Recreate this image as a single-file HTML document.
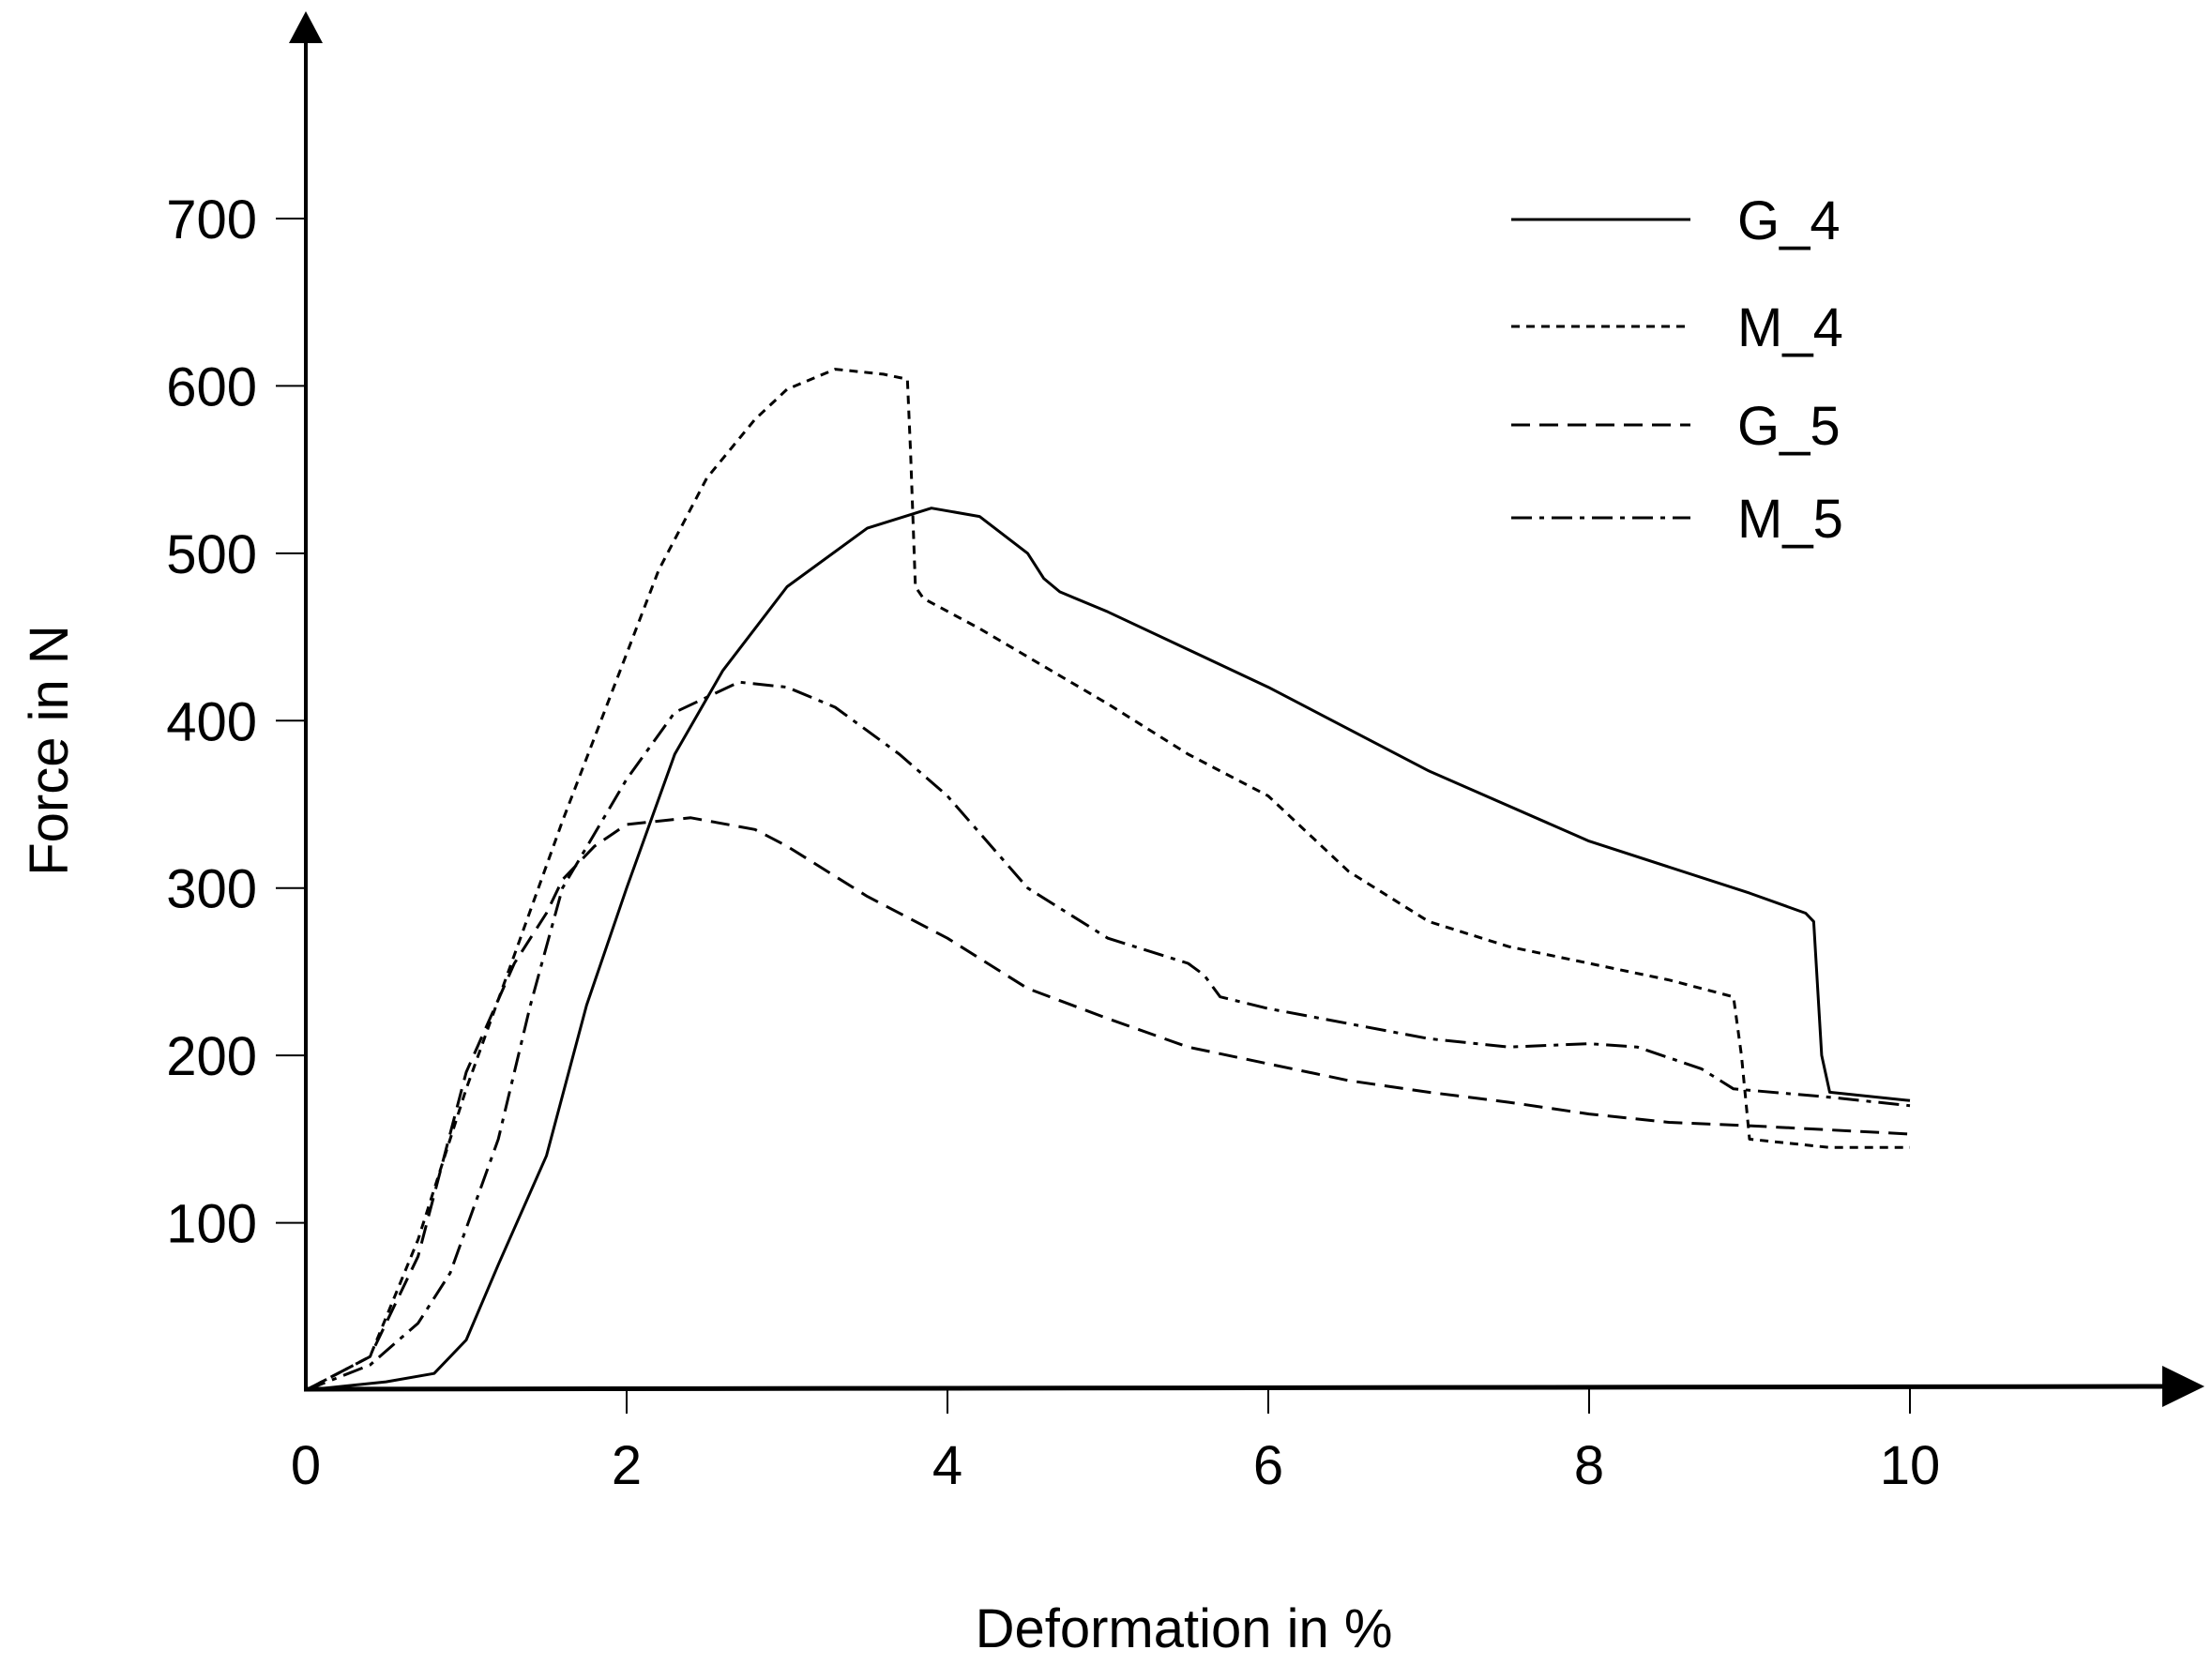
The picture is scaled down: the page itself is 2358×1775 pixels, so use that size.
<!DOCTYPE html>
<html><head><meta charset="utf-8"><style>
html,body{margin:0;padding:0;background:#fff;}
svg{display:block;font-family:"Liberation Sans",sans-serif;}
</style></head><body>
<svg id="chart" width="2358" height="1775" viewBox="0 0 2358 1775">
<g id="axes"></g>
<g id="series"></g>
<g id="legend"></g>
</svg>
<script>
const xTicks=[0,2,4,6,8,10];
const yTicks=[100,200,300,400,500,600,700];
const g4X=[0,0.5,0.8,1,1.2,1.5,1.75,2,2.3,2.6,3,3.5,3.9,4.2,4.5,4.6,4.7,5,6,7,8,9,9.35,9.4,9.45,9.5,10];
const g4Y=[0,5,10,30,75,140,230,300,380,430,480,515,527,522,500,485,477,465,420,370,328,297,285,280,200,178,173];
const m4X=[0,0.4,0.7,1,1.3,1.6,2,2.2,2.5,2.8,3,3.3,3.6,3.75,3.77,3.8,3.85,4.2,5,5.5,6,6.5,7,7.5,8,8.5,8.9,8.95,9,9.5,10];
const m4Y=[0,20,90,180,260,340,440,490,545,580,598,610,607,604,560,480,473,455,410,380,355,310,280,265,255,245,235,200,150,145,145];
const g5X=[0,0.4,0.7,1,1.3,1.5,1.6,1.8,2,2.4,2.8,3,3.5,4,4.5,5,5.5,6,6.5,7,7.5,8,8.5,9,10];
const g5Y=[0,20,80,190,255,285,305,325,338,342,335,325,295,270,240,222,205,195,185,178,172,165,160,158,153];
const m5X=[0,0.4,0.7,0.9,1.2,1.4,1.6,2,2.3,2.7,3,3.3,3.7,4,4.5,5,5.5,5.6,5.7,6,7,7.5,8,8.3,8.7,8.9,9.5,10];
const m5Y=[0,15,40,70,150,230,300,365,405,423,420,408,380,355,300,270,255,248,235,228,210,205,207,205,192,180,175,170];
const seriesNames=["G_4","M_4","G_5","M_5"];

const NS="http://www.w3.org/2000/svg";
const X0=326,XS=171,Y0=1482,YS=1.7843;
const sx=v=>X0+v*XS, sy=v=>Y0-v*YS;
function mk(tag,attrs,parent,text){const e=document.createElementNS(NS,tag);for(const k in attrs)e.setAttribute(k,attrs[k]);if(text!==undefined)e.textContent=text;parent.appendChild(e);return e;}
const axes=document.getElementById('axes');
let e;
e=mk('line',{x1:326,y1:1482,x2:326,y2:45,stroke:'#000','stroke-width':4},axes);


e=mk('polygon',{points:'326,12 308,46 344,46',fill:'#000'},axes);


e=mk('line',{x1:324,y1:1481,x2:2310,y2:1478,stroke:'#000','stroke-width':5},axes);


e=mk('polygon',{points:'2350,1478 2305,1456 2305,1500',fill:'#000'},axes);


xTicks.forEach(t=>{
  if(t>0){e=mk('line',{x1:sx(t),y1:1480,x2:sx(t),y2:1507,stroke:'#000','stroke-width':2},axes);
  
  }
  e=mk('text',{x:sx(t),y:1582,'font-size':58,'text-anchor':'middle'},axes,String(t));
  
  
});
yTicks.forEach(t=>{
  e=mk('line',{x1:294,y1:sy(t),x2:326,y2:sy(t),stroke:'#000','stroke-width':2},axes);
  
  
  e=mk('text',{x:274,y:sy(t)+21,'font-size':58,'text-anchor':'end'},axes,String(t));
  
  
});
e=mk('text',{x:1262,y:1756,'font-size':58,'text-anchor':'middle'},axes,'Deformation in %');


e=mk('text',{x:0,y:0,'font-size':58,'text-anchor':'middle',transform:'translate(72,800) rotate(-90)'},axes,'Force in N');



const dashes=['none','9,7','20,10','22,8,5,8'];
const data=[[g4X,g4Y],[m4X,m4Y],[g5X,g5Y],[m5X,m5Y]];
const ser=document.getElementById('series');
const leg=document.getElementById('legend');
const legY=[234,348,453,552];
data.forEach((d,i)=>{
  const pts=d[0].map((x,j)=>sx(x).toFixed(1)+','+sy(d[1][j]).toFixed(1)).join(' ');
  const p=mk('polyline',{points:pts,fill:'none',stroke:'#000','stroke-width':3,'stroke-linejoin':'round','stroke-dasharray':dashes[i]},ser);
  
  
  const l=mk('line',{x1:1611,y1:legY[i],x2:1802,y2:legY[i],stroke:'#000','stroke-width':3,'stroke-dasharray':dashes[i]},leg);
  
  
  const t=mk('text',{x:1852,y:legY[i]+21,'font-size':58},leg,seriesNames[i]);
  
  
});
</script>
</body></html>
